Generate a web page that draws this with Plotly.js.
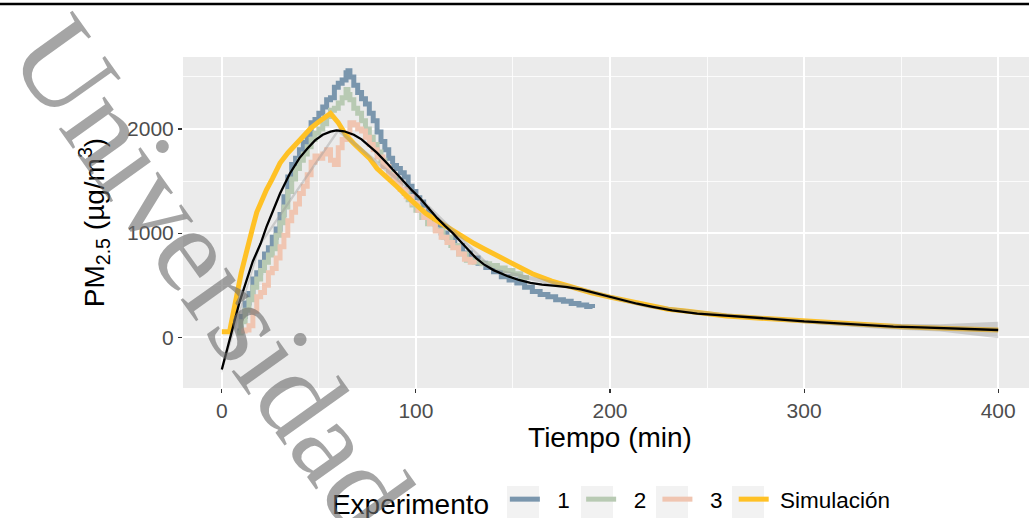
<!DOCTYPE html>
<html>
<head>
<meta charset="utf-8">
<script src="https://cdn.plot.ly/plotly-3.0.1.min.js"></script>
<style>
  html, body { margin: 0; padding: 0; width: 1029px; height: 518px; overflow: hidden; background: #fff; }
  #plot { position: absolute; left: 0; top: 0; width: 1040px; height: 518px; }
  #overlay { position: absolute; left: 0; top: 0; width: 1029px; height: 518px; pointer-events: none; }
</style>
</head>
<body>
<div id="plot"></div>
<svg id="overlay" width="1029" height="518" xmlns="http://www.w3.org/2000/svg">
  <line x1="0" y1="4" x2="1029" y2="4" stroke="#000" stroke-width="2.6"/>
  <text x="6" y="55" transform="rotate(54.5 6 55)" font-family="Liberation Serif, 'Times New Roman', serif"
        font-size="122" fill="rgba(110,110,110,0.62)">Universidad</text>
</svg>
<script>
// ---- Data ----
const exp1T = [8,10,12,14,16,18,20,22,24,26,28,30,32,34,36,38,40,42,44,46,48,50,52,54,56,58,60,62,64,65,66,68,70,72,74,76,78,80,82,84,86,88,90,92,94,96,98,100,102,104,106,108,110,113,116,120,124,128,132,136,140,144,148,152,156,160,164,168,172,176,180,184,188,191];
const exp1V = [60,200,330,420,560,620,720,800,860,960,1040,1180,1350,1540,1660,1720,1800,1870,1950,2060,2090,2150,2210,2280,2300,2400,2440,2470,2540,2560,2500,2420,2350,2290,2240,2150,2080,1970,1880,1800,1720,1650,1620,1580,1540,1450,1400,1340,1300,1230,1180,1110,1080,1000,950,880,810,760,710,670,630,580,550,520,480,440,410,390,360,345,325,310,295,280];

const exp2T = [8,10,12,14,16,18,20,22,24,26,28,30,32,34,36,38,40,42,44,46,48,50,52,54,56,58,60,62,64,65,66,68,70,72,74,76,78,80,82,84,86,88,90,92,94,96,98,100,103,106,110,114,118,122,126,130,134,138,142,146,150,154,157];
const exp2V = [40,150,260,360,480,560,640,720,790,850,980,1100,1250,1400,1520,1620,1700,1760,1830,1900,1960,2000,2050,2120,2180,2200,2250,2300,2380,2330,2280,2200,2150,2080,2000,1920,1850,1780,1700,1640,1580,1520,1470,1420,1380,1320,1270,1220,1150,1090,1030,960,880,800,740,720,705,690,665,640,610,575,550];

const exp3T = [10,12,14,16,18,20,22,24,26,28,30,32,34,36,38,40,42,44,46,48,50,52,54,56,58,60,62,64,66,68,70,72,74,76,78,80,83,86,89,92,95,98,101,104,107,110,113,116,119,122,125,128,130];
const exp3V = [60,70,110,250,390,430,500,620,660,760,870,980,1120,1200,1280,1380,1450,1560,1680,1740,1720,1760,1800,1700,1660,1820,1900,1960,2060,2040,2000,1980,1920,1850,1800,1730,1640,1560,1490,1420,1350,1290,1220,1150,1090,1020,960,910,860,800,750,720,700];

const simT = [0,4,5,6,8,10,12,14,16,18,20,23,26,30,34,38,42,46,50,53,56,60,64,68,72,76,80,85,90,95,100,105,110,115,120,125,130,135,140,145,150,160,170,180,190,200,210,220,230,240,250,260,270,280,290,300,310,320,330,340,350,360,370,380,390,400];
const simV = [54,54,150,230,430,620,780,930,1060,1200,1300,1416,1520,1673,1770,1855,1935,2010,2070,2110,2150,2060,1940,1860,1790,1720,1620,1540,1450,1360,1270,1190,1130,1070,1020,960,900,850,800,750,700,610,540,480,430,385,345,310,270,250,225,205,192,180,165,150,138,128,118,108,100,95,88,82,76,70];

const smoothT = [0,3,6,9,13,16,20,23,26.6,30,35,40,44,48,52,56,59,63,68,72,76,80,85,89,94,98,102,106,111,115,119,123,127,131,135,140,147,153,159,165,172,178,185,191,198,206,214,222,232,245,258,270,285,300,310,320,335,346,360,375,390,400];
const smoothV = [-310,-100,100,330,560,730,900,1060,1224,1380,1570,1720,1810,1890,1945,1975,1987,1978,1945,1900,1835,1770,1673,1590,1490,1410,1337,1250,1144,1070,1000,920,840,760,700,645,588,550,522,505,493,482,460,430,400,355,322,292,258,228,212,198,175,152,140,128,112,102,95,88,78,70];

const ribbonT  = [0,20,60,100,140,180,220,260,300,340,370,400];
const ribbonLo = [-345,880,1967,1352,627,462,278,195,135,80,55,-10];
const ribbonHi = [-275,920,2007,1392,663,502,312,228,170,130,125,150];

const xTicks = [0,100,200,300,400];
const yTicks = [0,1000,2000];

const seriesNames = ['1','2','3','Simulación'];
const seriesColors = ['#7a96ad','#b8cab3','#f0c5b1','#ffc125'];

// ---- Traces ----
const FONT = 'Liberation Sans, Arial, sans-serif';
const NB = '\u00a0';
const legendLabel = (name, i) => (i < 3 ? NB + NB + name + NB : NB + name);
const expT = [exp1T, exp2T, exp3T];
const expV = [exp1V, exp2V, exp3V];
const traces = [];
for (let i = 0; i < 3; i++) {
  traces.push({
    x: expT[i], y: expV[i], type: 'scatter', mode: 'lines',
    name: legendLabel(seriesNames[i], i), line: {color: seriesColors[i], width: 5, shape: 'hv'}
  });
}
traces.push({
  x: simT, y: simV, type: 'scatter', mode: 'lines',
  name: legendLabel(seriesNames[3], 3), line: {color: seriesColors[3], width: 5}
});
traces.push({
  x: ribbonT, y: ribbonLo, type: 'scatter', mode: 'lines',
  line: {width: 0, color: 'rgba(0,0,0,0)'}, showlegend: false, hoverinfo: 'skip'
});
traces.push({
  x: ribbonT, y: ribbonHi, type: 'scatter', mode: 'lines', fill: 'tonexty',
  fillcolor: 'rgba(153,153,153,0.4)', line: {width: 0, color: 'rgba(0,0,0,0)'},
  showlegend: false, hoverinfo: 'skip'
});
traces.push({
  x: smoothT, y: smoothV, type: 'scatter', mode: 'lines',
  line: {color: '#000000', width: 2.3}, showlegend: false
});

// grey legend-key boxes (paper coordinates of the plot area 183..1037 x 57..388)
const keyBoxLeftPx = [507, 581, 656, 732];
const pxToPaperX = px => (px - 183) / 854;
const pxToPaperY = py => (388 - py) / 331;
const shapes = keyBoxLeftPx.map(px => ({
  type: 'rect', xref: 'paper', yref: 'paper', layer: 'below',
  x0: pxToPaperX(px), x1: pxToPaperX(px + 32),
  y0: pxToPaperY(486), y1: pxToPaperY(530),
  fillcolor: '#f2f2f2', line: {width: 0}
}));

const layout = {
  width: 1040, height: 518,
  margin: {l: 183, r: 3, t: 57, b: 130, autoexpand: false},
  paper_bgcolor: '#ffffff', plot_bgcolor: '#ebebeb',
  font: {family: FONT, color: '#000'},
  showlegend: true,
  shapes: shapes,
  xaxis: {
    range: [-20, 420], tickvals: xTicks, ticktext: xTicks.map(String),
    showgrid: true, gridcolor: '#ffffff', gridwidth: 1.6,
    minor: {dtick: 50, tick0: 0, showgrid: true, gridcolor: '#ffffff', gridwidth: 0.8},
    zeroline: false, showline: false,
    ticks: 'outside', ticklen: 4, tickwidth: 1.1, tickcolor: '#333333',
    tickfont: {size: 21, color: '#4d4d4d', family: FONT},
    title: {text: 'Tiempo (min)', font: {size: 28, color: '#000', family: FONT}, standoff: 6}
  },
  yaxis: {
    range: [-487, 2691], tickvals: yTicks, ticktext: yTicks.map(String),
    showgrid: true, gridcolor: '#ffffff', gridwidth: 1.6,
    minor: {dtick: 500, tick0: 0, showgrid: true, gridcolor: '#ffffff', gridwidth: 0.8},
    zeroline: false, showline: false,
    ticks: 'outside', ticklen: 4, tickwidth: 1.1, tickcolor: '#333333',
    tickfont: {size: 21, color: '#4d4d4d', family: FONT},
    title: {text: 'PM<sub>2.5</sub> (µg/m<sup>3</sup>)', font: {size: 28, color: '#000', family: FONT}, standoff: 14}
  },
  legend: {
    orientation: 'h', x: 0.172, xanchor: 'left', y: -0.343, yanchor: 'middle',
    bgcolor: 'rgba(0,0,0,0)', font: {size: 22.5, color: '#000', family: FONT},
    title: {text: 'Experimento' + NB, side: 'left', font: {size: 28, color: '#000', family: FONT}},
    traceorder: 'normal'
  }
};

Plotly.newPlot('plot', traces, layout, {displayModeBar: false, staticPlot: true});
</script>
</body>
</html>
